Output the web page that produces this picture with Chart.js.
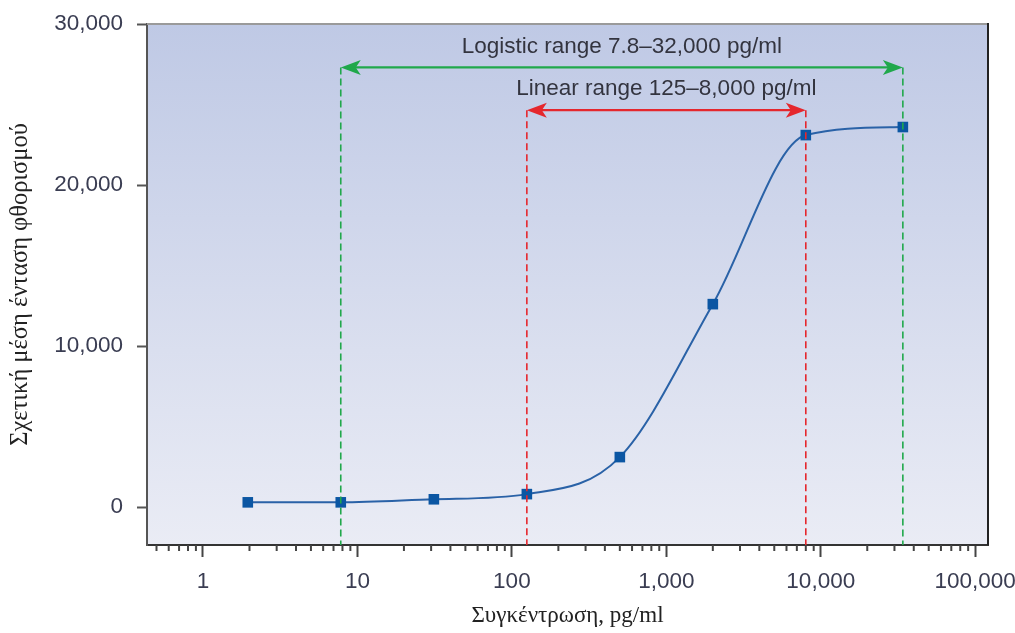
<!DOCTYPE html>
<html><head><meta charset="utf-8">
<script src="https://cdn.jsdelivr.net/npm/chart.js@4/dist/chart.umd.min.js"></script>
<style>html,body{margin:0;padding:0;background:#fff}#wrap{width:1015px;height:633px}</style>
</head><body><div id="wrap"><canvas id="c" width="1015" height="633"></canvas></div>
<script>
// ---- data ----
const concentrations = [1.95, 7.8, 31.25, 125, 500, 2000, 8000, 34000];
const intensities    = [290, 290, 480, 800, 3100, 12600, 23100, 23600];
const xMajorTicks = [1, 10, 100, 1000, 10000, 100000];
const xTickLabels = ['1', '10', '100', '1,000', '10,000', '100,000'];
const yTicks      = [0, 10000, 20000, 30000];
const yTickLabels = ['0', '10,000', '20,000', '30,000'];
const logisticRange = [7.8, 34000];
const linearRange   = [125, 8000];
const rangeLevels   = [27300, 24650];
const rangeLabels   = ['Logistic range 7.8\u201332,000 pg/ml', 'Linear range 125\u20138,000 pg/ml'];
const xTitle = 'Συγκέντρωση, pg/ml';
const yTitle = 'Σχετική μέση ένταση φθορισμού';

const X_MIN = 0.434, X_MAX = 121000, Y_MIN = -2360, Y_MAX = 30000;

// all x ticks: majors at decades, minors at 2..9 of each decade
const xAllTicks = [];
[0.1, 1, 10, 100, 1000, 10000, 100000].forEach(d => {
  for (let m = 1; m <= 9; m++) {
    const v = +(d * m).toPrecision(6);
    if (v >= X_MIN && v <= 100000) xAllTicks.push({value: v, major: m === 1});
  }
});

const SANS = "'Liberation Sans', Arial, Helvetica, sans-serif";
const SERIF = "'Liberation Serif', 'Times New Roman', 'DejaVu Serif', serif";
const GREEN = '#20a84b', RED = '#e5272d';

const bgPlugin = {
  id: 'bg',
  beforeDraw(chart) {
    const {ctx, chartArea: a} = chart;
    const g = ctx.createLinearGradient(0, a.top, 0, a.bottom);
    g.addColorStop(0, '#bfc9e5');
    g.addColorStop(1, '#eaecf5');
    ctx.save();
    ctx.fillStyle = g;
    ctx.fillRect(a.left, a.top, a.right - a.left, a.bottom - a.top);
    ctx.restore();
  }
};

function arrowHead(ctx, x, y, dir) {
  ctx.beginPath();
  ctx.moveTo(x, y);
  ctx.lineTo(x + dir * 20, y - 7.5);
  ctx.lineTo(x + dir * 15, y);
  ctx.lineTo(x + dir * 20, y + 7.5);
  ctx.closePath();
  ctx.fill();
}

const annotPlugin = {
  id: 'annot',
  afterDatasetsDraw(chart) {
    const {ctx, chartArea: a, scales: {x, y}} = chart;
    const ranges = [logisticRange, linearRange];
    const colors = [GREEN, RED];
    ctx.save();
    ranges.forEach((r, i) => {
      const x1 = x.getPixelForValue(r[0]);
      const x2 = x.getPixelForValue(r[1]);
      const yy = y.getPixelForValue(rangeLevels[i]);
      ctx.strokeStyle = colors[i];
      ctx.fillStyle = colors[i];
      ctx.lineWidth = 1.6;
      ctx.setLineDash([7, 4]);
      [x1, x2].forEach(px => {
        ctx.beginPath();
        ctx.moveTo(px, yy);
        ctx.lineTo(px, a.bottom);
        ctx.stroke();
      });
      ctx.setLineDash([]);
      ctx.lineWidth = 2.2;
      ctx.beginPath();
      ctx.moveTo(x1 + 12, yy);
      ctx.lineTo(x2 - 12, yy);
      ctx.stroke();
      arrowHead(ctx, x1, yy, 1);
      arrowHead(ctx, x2, yy, -1);
      const mid = x.getPixelForValue(Math.sqrt(r[0] * r[1]));
      ctx.fillStyle = '#33343f';
      ctx.font = '22.5px ' + SANS;
      ctx.textAlign = 'center';
      ctx.textBaseline = 'middle';
      ctx.fillText(rangeLabels[i], mid, yy - 21);
    });
    ctx.restore();
  },
  afterDraw(chart) {
    const {ctx, chartArea: a, scales: {x}} = chart;
    ctx.save();
    ctx.strokeStyle = '#444';
    ctx.lineWidth = 2;
    x.ticks.forEach(t => {
      if (t.major) return;
      const px = x.getPixelForValue(t.value);
      ctx.beginPath();
      ctx.moveTo(px, a.bottom);
      ctx.lineTo(px, a.bottom + 6);
      ctx.stroke();
    });
    ctx.strokeStyle = '#9a9a9a';
    ctx.lineWidth = 2;
    ctx.beginPath();
    ctx.moveTo(a.left, a.top);
    ctx.lineTo(a.right, a.top);
    ctx.stroke();
    ctx.strokeStyle = '#222';
    ctx.lineWidth = 2;
    ctx.beginPath();
    ctx.moveTo(a.right, a.top - 1);
    ctx.lineTo(a.right, a.bottom);
    ctx.stroke();
    ctx.restore();
  }
};

new Chart(document.getElementById('c'), {
  type: 'line',
  data: {
    datasets: [{
      data: concentrations.map((c, i) => ({x: c, y: intensities[i]})),
      borderColor: '#2a62a7',
      borderWidth: 2,
      cubicInterpolationMode: 'monotone',
      pointStyle: 'rect',
      pointRadius: 7.5,
      pointBackgroundColor: '#0b56a3',
      pointBorderColor: '#0b56a3',
      pointBorderWidth: 0,
      fill: false
    }]
  },
  options: {
    responsive: false,
    animation: false,
    devicePixelRatio: 1,
    layout: {padding: {top: 24, right: 27, left: 0, bottom: 0}},
    plugins: {legend: {display: false}, tooltip: {enabled: false}},
    scales: {
      x: {
        type: 'logarithmic',
        min: X_MIN, max: X_MAX,
        afterBuildTicks: s => { s.ticks = xAllTicks.map(t => ({value: t.value, major: t.major})); },
        afterFit: s => { s.height = 88; s.paddingLeft = 0; s.paddingRight = 0; },
        ticks: {
          autoSkip: false, maxRotation: 0, minRotation: 0, padding: 11,
          color: '#3a3d52', font: {family: SANS, size: 22.5},
          callback: v => {
            const i = xMajorTicks.findIndex(m => Math.abs(m - v) < 1e-6 * m);
            return i >= 0 ? xTickLabels[i] : '';
          }
        },
        grid: {
          drawOnChartArea: false, drawTicks: true, tickLength: 12, tickWidth: 2,
          tickColor: c => (c.tick && c.tick.major) ? '#444' : 'rgba(0,0,0,0)'
        },
        border: {display: true, color: '#333', width: 2},
        title: {display: true, text: xTitle, color: '#222', font: {family: SERIF, size: 23}, padding: {top: 0, bottom: 3}}
      },
      y: {
        type: 'linear',
        min: Y_MIN, max: Y_MAX,
        afterBuildTicks: s => { s.ticks = yTicks.map(v => ({value: v})); },
        afterFit: s => { s.width = 147; s.paddingTop = 0; s.paddingBottom = 0; },
        ticks: {
          padding: 14, color: '#3a3d52', font: {family: SANS, size: 22.5},
          callback: v => { const i = yTicks.indexOf(v); return i >= 0 ? yTickLabels[i] : ''; }
        },
        grid: {drawOnChartArea: false, drawTicks: true, tickLength: 10, tickWidth: 2, tickColor: '#555'},
        border: {display: true, color: '#555', width: 2},
        title: {display: true, text: yTitle, color: '#222', font: {family: SERIF, size: 24.5}, padding: {top: 6, bottom: 0}}
      }
    }
  },
  plugins: [bgPlugin, annotPlugin]
});
</script>
</body></html>
